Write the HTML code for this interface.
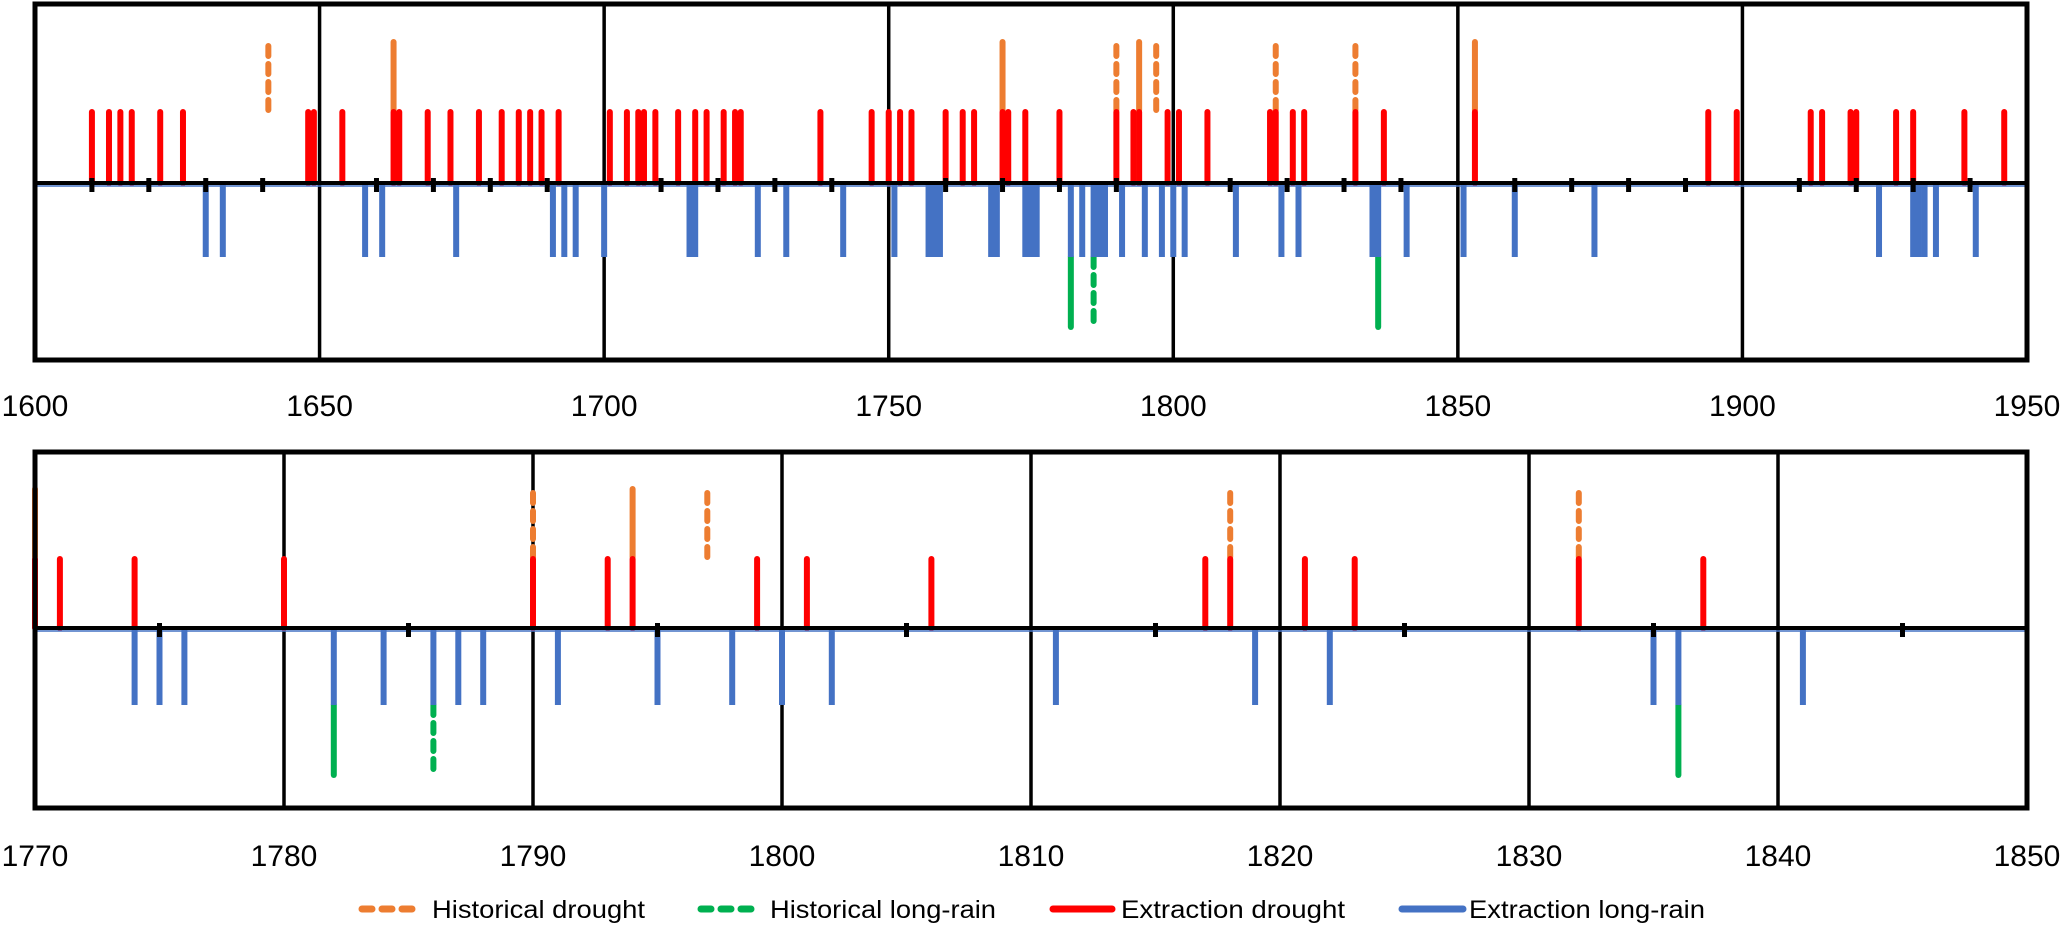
<!DOCTYPE html>
<html><head><meta charset="utf-8"><style>
html,body{margin:0;padding:0;background:#fff;}
svg{display:block;font-family:"Liberation Sans",sans-serif;}
</style></head><body>
<svg id="chart" width="2067" height="926" viewBox="0 0 2067 926" xmlns="http://www.w3.org/2000/svg">
<g id="legend">
  <g>
    <line x1="362" y1="909" x2="420" y2="909" stroke="#ED7D31" stroke-width="7" stroke-dasharray="10 10" stroke-linecap="round"/>
    <text x="432" y="918" font-size="25" textLength="213" lengthAdjust="spacingAndGlyphs">Historical drought</text>
  </g>
  <g>
    <line x1="701" y1="909" x2="760" y2="909" stroke="#00B050" stroke-width="7" stroke-dasharray="10 10" stroke-linecap="round"/>
    <text x="770" y="918" font-size="25" textLength="226" lengthAdjust="spacingAndGlyphs">Historical long-rain</text>
  </g>
  <g>
    <line x1="1053" y1="909" x2="1112" y2="909" stroke="#FF0000" stroke-width="7" stroke-linecap="round"/>
    <text x="1121" y="918" font-size="25" textLength="224" lengthAdjust="spacingAndGlyphs">Extraction drought</text>
  </g>
  <g>
    <line x1="1402" y1="909" x2="1463" y2="909" stroke="#4472C4" stroke-width="7" stroke-linecap="round"/>
    <text x="1469" y="918" font-size="25" textLength="236" lengthAdjust="spacingAndGlyphs">Extraction long-rain</text>
  </g>
</g>
</svg>
<script>
// ---- data ----
const extractionDroughtYears = [1610,1613,1615,1617,1622,1626,1648,1649,1654,1663,1664,1669,1673,1678,1682,1685,1687,1689,1692,
  1701,1704,1706,1707,1709,1713,1716,1718,1721,1723,1724,1738,1747,1750,1752,1754,1760,1763,1765,1770,1771,1774,1780,
  1790,1793,1794,1799,1801,1806,1817,1818,1821,1823,1832,1837,1853,1894,1899,1912,1914,1919,1920,1927,1930,1939,1946];
const extractionRainYears = [1630,1633,1658,1661,1674,1691,1693,1695,1700,1715,1716,1727,1732,1742,1751,1757,1758,1759,
  1768,1769,1774,1775,1776,1782,1784,1786,1787,1788,1791,1795,1798,1800,1802,1811,1819,1822,1835,1836,1841,1851,1860,1874,
  1924,1930,1931,1932,1934,1941];
const historicalDroughtYears = [1641,1663,1770,1790,1794,1797,1818,1832,1853];
const historicalDroughtDashed = [true,false,false,true,false,true,true,true,false];
const historicalRainYears = [1782,1786,1836];
const historicalRainDashed = [false,true,false];
const topTickLabels = [1600,1650,1700,1750,1800,1850,1900,1950];
const bottomTickLabels = [1770,1780,1790,1800,1810,1820,1830,1840,1850];

const NS = "http://www.w3.org/2000/svg";
const svg = document.getElementById('chart');
const legend = document.getElementById('legend');

const panels = [
  {name:'top', x0:35, x1:2027, y0:4, y1:360, axis:183, min:1600, max:1950, grid:50, tick:10,
   up1:73, up2:144, dn1:74, dn2:146, bw:6, labels:topTickLabels, labelY:416},
  {name:'bottom', x0:35, x1:2027, y0:452, y1:808, axis:628, min:1770, max:1850, grid:10, tick:5,
   up1:71, up2:142, dn1:77, dn2:149, bw:6, labels:bottomTickLabels, labelY:866}
];

panels.forEach(p => {
  const xs = y => p.x0 + (y - p.min) * (p.x1 - p.x0) / (p.max - p.min);
  const inR = y => y >= p.min && y <= p.max;
  const g = document.createElementNS(NS,'g');
  
  
  svg.insertBefore(g, legend);
  const add = (tag, attrs) => { const e = document.createElementNS(NS, tag); for (const k in attrs) e.setAttribute(k, attrs[k]); g.appendChild(e); return e; };

  for (let y = p.min + p.grid; y < p.max; y += p.grid) {
    const l = add('line',{x1:xs(y),x2:xs(y),y1:p.y0,y2:p.y1,stroke:'#000','stroke-width':3.5});
    
    
  }
  historicalDroughtYears.forEach((yr, i) => {
    if (!inR(yr)) return;
    const a = {x1:xs(yr),x2:xs(yr),y1:p.axis - p.up1,y2:p.axis - p.up2 + 3,stroke:'#ED7D31','stroke-width':p.bw,'stroke-linecap':'round'};
    if (historicalDroughtDashed[i]) a['stroke-dasharray'] = '10 8';
    const l = add('line', a);
    
    
  });
  historicalRainYears.forEach((yr, i) => {
    if (!inR(yr)) return;
    const a = {x1:xs(yr),x2:xs(yr),y1:p.axis + p.dn1,y2:p.axis + p.dn2 - 2,stroke:'#00B050','stroke-width':p.bw,'stroke-linecap':'round'};
    if (historicalRainDashed[i]) a['stroke-dasharray'] = '10 8';
    const l = add('line', a);
    
    
  });
  extractionDroughtYears.forEach(yr => {
    if (!inR(yr)) return;
    const l = add('line',{x1:xs(yr),x2:xs(yr),y1:p.axis,y2:p.axis - p.up1 + 2,stroke:'#FF0000','stroke-width':p.bw,'stroke-linecap':'round'});
    
    
  });
  extractionRainYears.forEach(yr => {
    if (!inR(yr)) return;
    const l = add('rect',{x:xs(yr) - p.bw/2,y:p.axis,width:p.bw,height:p.dn1,fill:'#4472C4'});
    
    
  });
  const bl = add('line',{x1:p.x0,x2:p.x1,y1:p.axis+3,y2:p.axis+3,stroke:'#4472C4','stroke-width':1.5});
  
  
  const ax = add('line',{x1:p.x0,x2:p.x1,y1:p.axis,y2:p.axis,stroke:'#000','stroke-width':4});
  
  
  for (let y = p.min + p.tick; y < p.max; y += p.tick) {
    if ((y - p.min) % p.grid === 0) continue;
    const t = add('rect',{x:xs(y) - 2.5,y:p.axis - 5,width:5,height:14,fill:'#000'});
    
    
  }
  const fr = add('rect',{x:p.x0,y:p.y0,width:p.x1 - p.x0,height:p.y1 - p.y0,fill:'none',stroke:'#000','stroke-width':5});
  
  
  p.labels.forEach(v => {
    const t = add('text',{x:xs(v),y:p.labelY,'font-size':30,'text-anchor':'middle',fill:'#000'});
    t.textContent = v;
    
    
  });
});
</script>
</body></html>
